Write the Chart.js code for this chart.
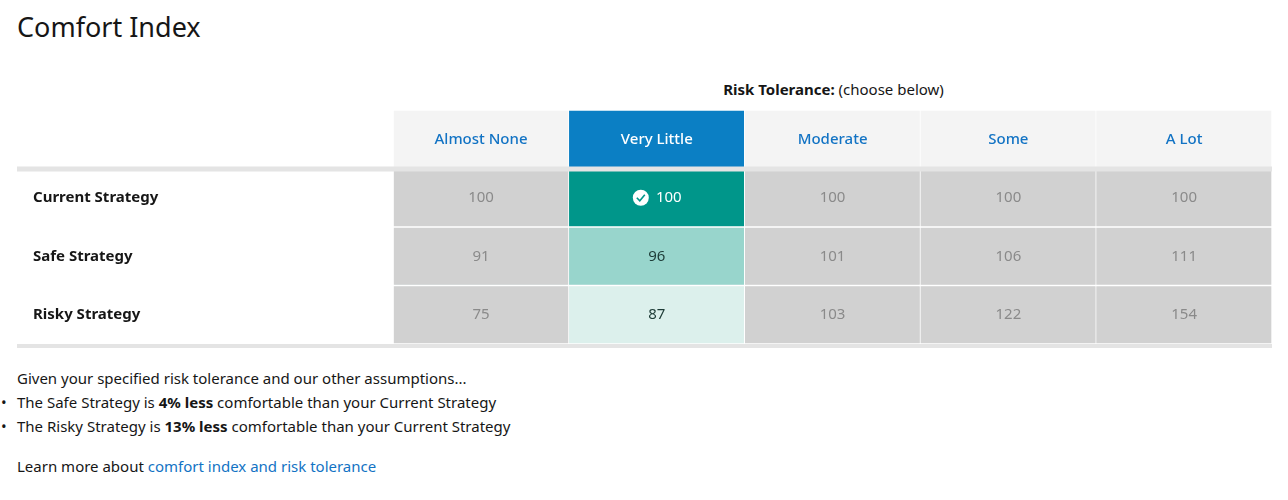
<!DOCTYPE html>
<html><head><meta charset="utf-8">
<script src="https://cdn.jsdelivr.net/npm/chart.js@4/dist/chart.umd.min.js"></script>
<style>
body{margin:0;font-family:"Noto Sans",sans-serif;color:#161616;background:#fff;width:1288px;height:500px;position:relative;overflow:hidden}
h1{position:absolute;left:17px;top:8px;margin:0;font-weight:400;font-size:27px}
#rt{position:absolute;left:395px;width:877px;top:79px;text-align:center;font-size:15px}
#wrap{position:absolute;left:17px;top:110px;width:1255px;height:240px}
#txt{position:absolute;left:17px;top:366px;font-size:15px;line-height:24px}
#txt ul{margin:0;padding-left:0;list-style:none}
#txt li:before{content:"•";position:absolute;left:-16px}
#txt li{position:relative}
a{color:#0f62fe;color:#1273c4;text-decoration:none}
</style></head><body>
<h1>Comfort Index</h1>
<div id="rt"><b>Risk Tolerance:</b> (choose below)</div>
<div id="wrap"><canvas id="c"></canvas></div>
<div id="txt">Given your specified risk tolerance and our other assumptions...<ul>
<li>The Safe Strategy is <b>4% less</b> comfortable than your Current Strategy</li>
<li>The Risky Strategy is <b>13% less</b> comfortable than your Current Strategy</li></ul>
<div style="margin-top:16px">Learn more about <a>comfort index and risk tolerance</a></div></div>
<script>
const columns = ['Almost None','Very Little','Moderate','Some','A Lot'];
const rows = ['Current Strategy','Safe Strategy','Risky Strategy'];
const current = [100,100,100,100,100];
const safe = [91,96,101,106,111];
const risky = [75,87,103,122,154];
const selected = 1;
const values = [current, safe, risky];
const selColors = ['#00968a','#98d5cc','#dcf0ec'];

const datasets = columns.map((c, i) => ({
  label: c,
  data: [1,1,1,1],
  backgroundColor: [i===selected?'#0b7fc4':'#f4f4f4'].concat(rows.map((r,j)=> i===selected?selColors[j]:'#d1d1d1')),
  borderColor:'#fff', borderWidth:{left:1,right:1,top:1,bottom:1}, borderSkipped:false,
  barPercentage:1, categoryPercentage:1
}));

const cellText = {
  id:'cellText',
  afterDatasetsDraw(chart){
    const {ctx, scales:{x,y}} = chart;
    ctx.save();
    ctx.textAlign='center'; ctx.textBaseline='middle';
    columns.forEach((c,i)=>{
      const cx = x.getPixelForValue(i+0.5);
      ctx.font = '500 15px "Noto Sans"';
      ctx.fillStyle = i===selected?'#fff':'#1273c4';
      ctx.fillText(c, cx, y.getPixelForValue(0));
      values.forEach((v,j)=>{
        const cy = y.getPixelForValue(j+1);
        ctx.font='15px "Noto Sans"';
        let tx = cx;
        if(i===selected && j===0){
          ctx.fillStyle='#fff'; ctx.beginPath(); ctx.arc(cx-16,cy,8,0,Math.PI*2); ctx.fill();
          ctx.strokeStyle='#00968a'; ctx.lineWidth=1.6; ctx.beginPath();
          ctx.moveTo(cx-20,cy); ctx.lineTo(cx-17,cy+3); ctx.lineTo(cx-12,cy-3); ctx.stroke();
          tx = cx+12;
          ctx.fillStyle='#fff';
        } else ctx.fillStyle = i===selected?'#1d3b36':'#8a8a8a';
        ctx.fillText(v[i], tx, cy);
      });
    });
    ctx.textAlign='left'; ctx.font='bold 15px "Noto Sans"'; ctx.fillStyle='#161616';
    rows.forEach((r,j)=> ctx.fillText(r, x.getPixelForValue(-2.14)+16, y.getPixelForValue(j+1)));
    const x0 = x.getPixelForValue(-2.14), x1 = x.getPixelForValue(5);
    const yb = (y.getPixelForValue(0)+y.getPixelForValue(1))/2;
    const ye = y.getPixelForValue(3) + (y.getPixelForValue(3)-y.getPixelForValue(2))/2;
    ctx.fillStyle='#e4e4e4';
    ctx.fillRect(x0, yb-2, x1-x0, 5);
    ctx.fillRect(x0, ye, x1-x0, 4);
    ctx.restore();
  }
};

new Chart(document.getElementById('c'), {
  type:'bar',
  data:{ labels:['header'].concat(rows), datasets },
  options:{
    indexAxis:'y', responsive:true, maintainAspectRatio:false, animation:false,
    layout:{padding:{bottom:6}},
    scales:{
      x:{stacked:true, display:false, min:-2.14, max:5},
      y:{stacked:true, display:false}
    },
    plugins:{legend:{display:false}, tooltip:{enabled:false}},
    datasets:{bar:{base:0}}
  },
  plugins:[cellText]
});
</script></body></html>
